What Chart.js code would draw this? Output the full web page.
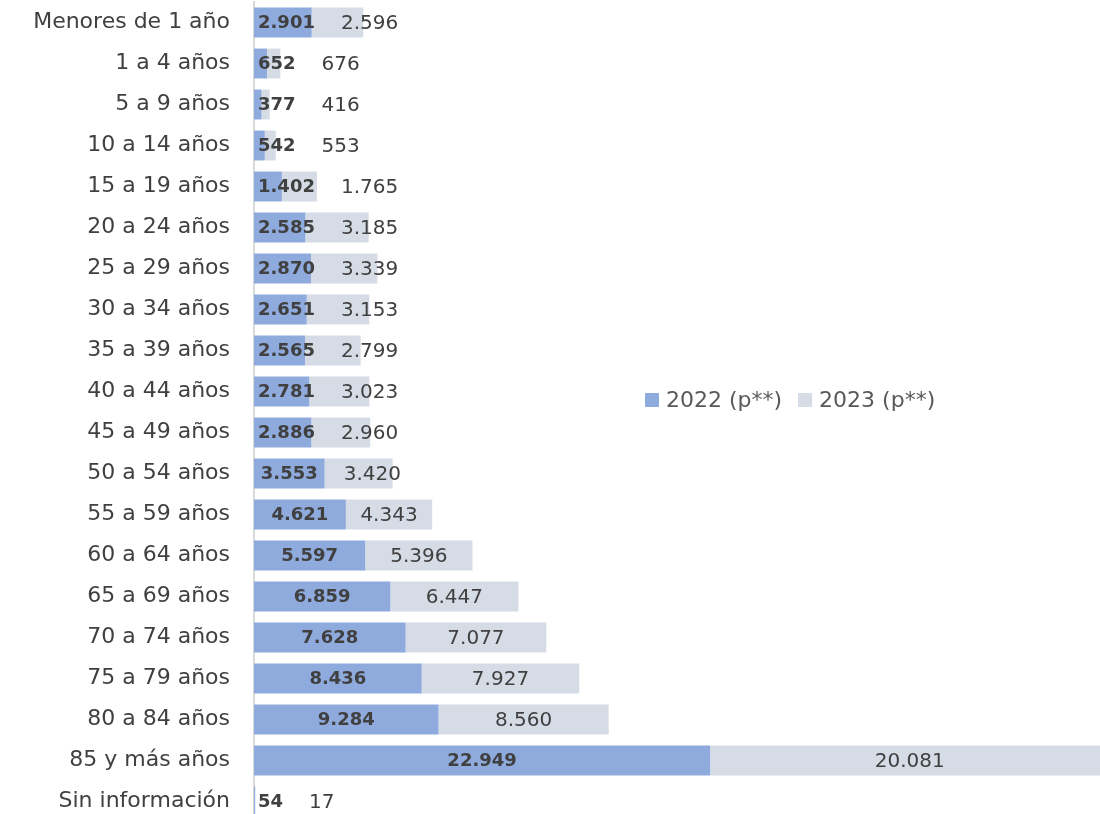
<!DOCTYPE html>
<html><head><meta charset="utf-8">
<script src="https://cdn.jsdelivr.net/npm/chart.js@4.4.1/dist/chart.umd.min.js"></script>
<style>html,body{margin:0;padding:0;background:#fff;overflow:hidden;width:1100px;height:814px}canvas{display:block}</style>
</head><body>
<canvas id="c" width="1100" height="822"></canvas>
<script>
const categories = ['Menores de 1 año','1 a 4 años','5 a 9 años','10 a 14 años','15 a 19 años','20 a 24 años','25 a 29 años','30 a 34 años','35 a 39 años','40 a 44 años','45 a 49 años','50 a 54 años','55 a 59 años','60 a 64 años','65 a 69 años','70 a 74 años','75 a 79 años','80 a 84 años','85 y más años','Sin información'];
const values2022 = [2901,652,377,542,1402,2585,2870,2651,2565,2781,2886,3553,4621,5597,6859,7628,8436,9284,22949,54];
const values2023 = [2596,676,416,553,1765,3185,3339,3153,2799,3023,2960,3420,4343,5396,6447,7077,7927,8560,20081,17];
const seriesLabels = ['2022 (p**)','2023 (p**)'];
const seriesColors = ['#8faadc','#d6dce5'];

const FONT = '"DejaVu Sans", sans-serif';
const fmt = v => String(v).replace(/\B(?=(\d{3})+(?!\d))/g, '.');

const valueLabels = {
  id: 'valueLabels',
  afterDatasetsDraw(chart) {
    const ctx = chart.ctx;
    const m0 = chart.getDatasetMeta(0), m1 = chart.getDatasetMeta(1);
    const axisX = chart.chartArea.left;
    ctx.save();
    ctx.textBaseline = 'middle';
    ctx.textAlign = 'center';
    ctx.fillStyle = '#404040';
    m0.data.forEach((bar, i) => {
      const t0 = fmt(chart.data.datasets[0].data[i]);
      ctx.font = 'bold 18px ' + FONT;
      const w0 = ctx.measureText(t0).width;
      const c0 = Math.max((bar.base + bar.x) / 2, axisX + 4 + w0 / 2);
      ctx.fillText(t0, c0, bar.y + 1);
      const right0 = c0 + w0 / 2;
      const b1 = m1.data[i];
      const t1 = fmt(chart.data.datasets[1].data[i]);
      ctx.font = '20px ' + FONT;
      const w1 = ctx.measureText(t1).width;
      const segMid = (b1.base + Math.min(b1.x, chart.chartArea.right + 10)) / 2;
      const c1 = Math.max(segMid, right0 + 26 + w1 / 2);
      ctx.fillText(t1, c1, b1.y + 1);
    });
    ctx.restore();
  }
};

const customLegend = {
  id: 'customLegend',
  afterDraw(chart, args, opts) {
    const ctx = chart.ctx;
    ctx.save();
    ctx.font = '22px ' + FONT;
    ctx.textBaseline = 'middle';
    ctx.textAlign = 'left';
    let x = opts.x;
    const y = opts.y;
    chart.data.datasets.forEach(ds => {
      ctx.fillStyle = ds.backgroundColor;
      ctx.fillRect(x, y - 7, 14, 14);
      x += 21;
      ctx.fillStyle = '#595959';
      ctx.fillText(ds.label, x, y + 1);
      x += ctx.measureText(ds.label).width + 16;
    });
    ctx.restore();
  }
};

new Chart(document.getElementById('c'), {
  type: 'bar',
  data: {
    labels: categories,
    datasets: [
      { label: seriesLabels[0], data: values2022, backgroundColor: seriesColors[0], borderWidth: 0 },
      { label: seriesLabels[1], data: values2023, backgroundColor: seriesColors[1], borderWidth: 0 }
    ]
  },
  options: {
    indexAxis: 'y',
    responsive: false,
    animation: false,
    devicePixelRatio: 1,
    layout: { padding: { top: 2, bottom: 0, left: 0, right: 0 } },
    datasets: { bar: { categoryPercentage: 1, barPercentage: 0.73 } },
    scales: {
      x: { stacked: true, display: false, min: 0, max: 42560 },
      y: {
        stacked: true,
        grid: { display: false, drawTicks: false },
        border: { display: true, color: '#d9d9d9', width: 2 },
        ticks: { color: '#404040', font: { family: FONT, size: 22 }, padding: 24 },
        afterFit: s => { s.width = 254; s.paddingTop = 0; s.paddingBottom = 0; }
      }
    },
    plugins: {
      legend: { display: false },
      tooltip: { enabled: false },
      customLegend: { x: 645, y: 400 }
    }
  },
  plugins: [valueLabels, customLegend]
});
</script>
</body></html>
